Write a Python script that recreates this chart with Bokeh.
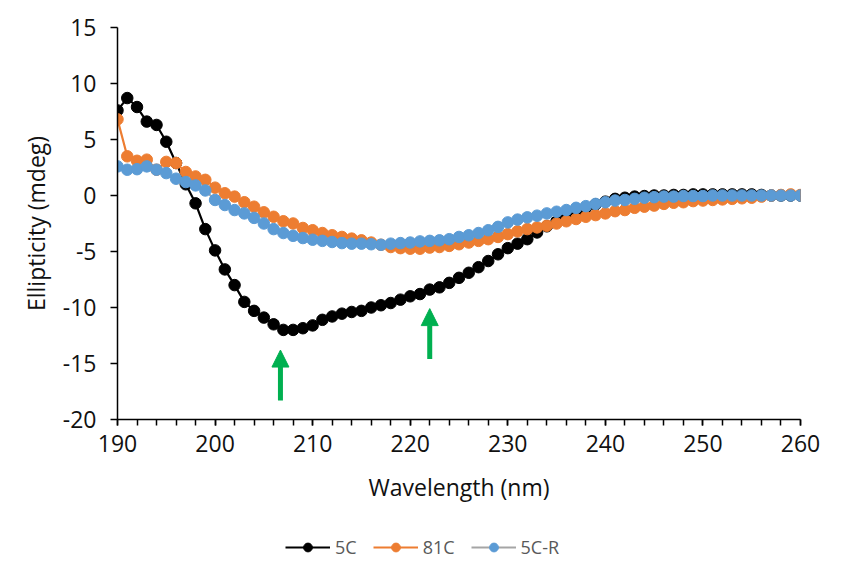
from bokeh.plotting import figure
from bokeh.layouts import column
from bokeh.models import (Legend, LegendItem, Arrow, NormalHead, FixedTicker, Range1d,
                          NumeralTickFormatter)
from bokeh.embed import file_html
from bokeh.resources import INLINE

# ---- data ----
wavelength = list(range(190, 261))

s5C = [7.6, 8.7, 7.9, 6.6, 6.3, 4.8, 2.9, 1.0, -0.7, -3.0,
       -4.9, -6.6, -8.0, -9.5, -10.3, -10.9, -11.5, -12.0, -12.0, -11.85,
       -11.6, -11.1, -10.8, -10.55, -10.4, -10.3, -10.0, -9.8, -9.6, -9.3,
       -9.0, -8.8, -8.4, -8.2, -7.8, -7.35, -6.9, -6.4, -5.85, -5.25,
       -4.7, -4.3, -3.9, -3.3, -2.75, -2.3, -1.85, -1.45, -1.1, -0.8,
       -0.55, -0.3, -0.2, -0.1, -0.05, 0.0, 0.0, 0.05, 0.05, 0.1,
       0.1, 0.1, 0.1, 0.1, 0.1, 0.1, 0.05, 0.0, 0.0, 0.0,
       0.0]

s81C = [6.8, 3.5, 3.1, 3.2, 2.3, 3.0, 2.9, 2.1, 1.7, 1.4,
        0.7, 0.2, -0.1, -0.6, -1.0, -1.5, -1.9, -2.3, -2.5, -2.9,
        -3.1, -3.35, -3.55, -3.7, -3.85, -4.0, -4.2, -4.4, -4.6, -4.7,
        -4.75, -4.75, -4.65, -4.6, -4.5, -4.35, -4.2, -4.05, -3.9, -3.7,
        -3.45, -3.2, -3.0, -2.85, -2.7, -2.5, -2.3, -2.1, -1.9, -1.75,
        -1.6, -1.4, -1.3, -1.1, -1.0, -0.9, -0.75, -0.65, -0.6, -0.5,
        -0.45, -0.4, -0.35, -0.3, -0.25, -0.2, -0.1, 0.0, 0.05, 0.1,
        0.05]

s5CR = [2.6, 2.3, 2.35, 2.6, 2.3, 2.0, 1.5, 1.2, 0.9, 0.45,
        -0.4, -0.85, -1.3, -1.6, -2.0, -2.5, -3.0, -3.35, -3.6, -3.8,
        -3.95, -4.05, -4.15, -4.25, -4.3, -4.3, -4.35, -4.4, -4.3, -4.25,
        -4.2, -4.1, -4.05, -4.0, -3.9, -3.7, -3.55, -3.35, -3.1, -2.8,
        -2.4, -2.15, -1.95, -1.8, -1.6, -1.45, -1.3, -1.1, -0.95, -0.75,
        -0.6, -0.45, -0.4, -0.3, -0.2, -0.15, -0.1, -0.1, -0.05, -0.05,
        -0.05, 0.0, 0.0, 0.0, 0.0, 0.0, 0.0, 0.0, 0.0, 0.0,
        0.0]

series_names = ["5C", "81C", "5C-R"]
x_ticks = [190, 200, 210, 220, 230, 240, 250, 260]
x_minor_ticks = list(range(190, 261, 2))
y_ticks = [-20, -15, -10, -5, 0, 5, 10, 15]

# annotation arrows (data units)
arrow_x = [206.7, 222.0]
arrow_tip = [-13.8, -10.1]
arrow_tail = [-18.3, -14.6]

# ---- styling ----
FONT = "Open Sans"
line_colors = ["#000000", "#ED7D31", "#A5A5A5"]
marker_colors = ["#000000", "#ED7D31", "#5B9BD5"]
green = "#00B050"

p = figure(frame_width=683, frame_height=392,
           min_border_left=117, min_border_right=29,
           min_border_top=27, min_border_bottom=111,
           x_range=Range1d(190, 260), y_range=Range1d(-20, 15),
           output_backend="svg", toolbar_location=None)

p.xgrid.visible = False
p.ygrid.visible = False
p.outline_line_color = None
p.background_fill_color = "white"
p.border_fill_color = "white"

p.xaxis.ticker = FixedTicker(ticks=x_ticks, minor_ticks=x_minor_ticks)
p.yaxis.ticker = FixedTicker(ticks=y_ticks, minor_ticks=[])
p.yaxis.formatter = NumeralTickFormatter(format="0")

for ax in (p.xaxis[0], p.yaxis[0]):
    ax.axis_line_color = "black"
    ax.axis_line_width = 1.5
    ax.major_tick_line_color = "black"
    ax.major_tick_line_width = 1.5
    ax.minor_tick_line_color = "black"
    ax.minor_tick_line_width = 1.5
    ax.major_tick_in = 0
    ax.minor_tick_in = 0
    ax.major_label_text_font = FONT
    ax.major_label_text_font_size = "23px"
    ax.major_label_text_color = "#111111"
    ax.axis_label_text_font = FONT
    ax.axis_label_text_font_size = "23px"
    ax.axis_label_text_font_style = "normal"
    ax.axis_label_text_color = "#111111"

p.xaxis.major_tick_out = 6
p.xaxis.minor_tick_out = 6
p.xaxis.major_label_standoff = 9
p.xaxis.axis_label = "Wavelength (nm)"
p.xaxis.axis_label_standoff = 16

p.yaxis.major_tick_out = 7
p.yaxis.minor_tick_out = 0
p.yaxis.major_label_standoff = 14
p.yaxis.axis_label = "Ellipticity (mdeg)"
p.yaxis.axis_label_standoff = 8

for name, ys, lc, mc in zip(series_names, [s5C, s81C, s5CR], line_colors, marker_colors):
    p.line(wavelength, ys, line_color=lc, line_width=2.2)
    p.scatter(wavelength, ys, size=11.5, fill_color=mc, line_color=mc)

for ax_, tip, tail in zip(arrow_x, arrow_tip, arrow_tail):
    p.add_layout(Arrow(end=NormalHead(size=17, fill_color=green, line_color=green, line_width=1),
                       x_start=ax_, y_start=tail, x_end=ax_, y_end=tip,
                       line_color=green, line_width=5))

# ---- legend strip (separate figure below the chart) ----
leg = figure(width=829, height=36, x_range=Range1d(0, 1), y_range=Range1d(0, 1),
             min_border=0, output_backend="svg", toolbar_location=None)
leg.axis.visible = False
leg.xgrid.visible = False
leg.ygrid.visible = False
leg.outline_line_color = None

items = []
for name, lc, mc in zip(series_names, line_colors, marker_colors):
    # placeholder renderers (outside the visible range) only used for legend swatches
    l = leg.line([-5, -4], [-5, -5], line_color=lc, line_width=2.2)
    s = leg.scatter([-5], [-5], size=11.5, fill_color=mc, line_color=mc)
    items.append(LegendItem(label=name, renderers=[l, s]))

legend = Legend(items=items, orientation="horizontal", location=(168, 7),
                glyph_width=45, glyph_height=22, label_standoff=5, spacing=16,
                padding=0, margin=0, border_line_color=None, background_fill_alpha=0,
                label_text_font=FONT, label_text_font_size="18px",
                label_text_color="#595959")
leg.add_layout(legend, "center")

layout = column(p, leg, spacing=0)
open("out.html", "w").write(file_html(layout, INLINE))
